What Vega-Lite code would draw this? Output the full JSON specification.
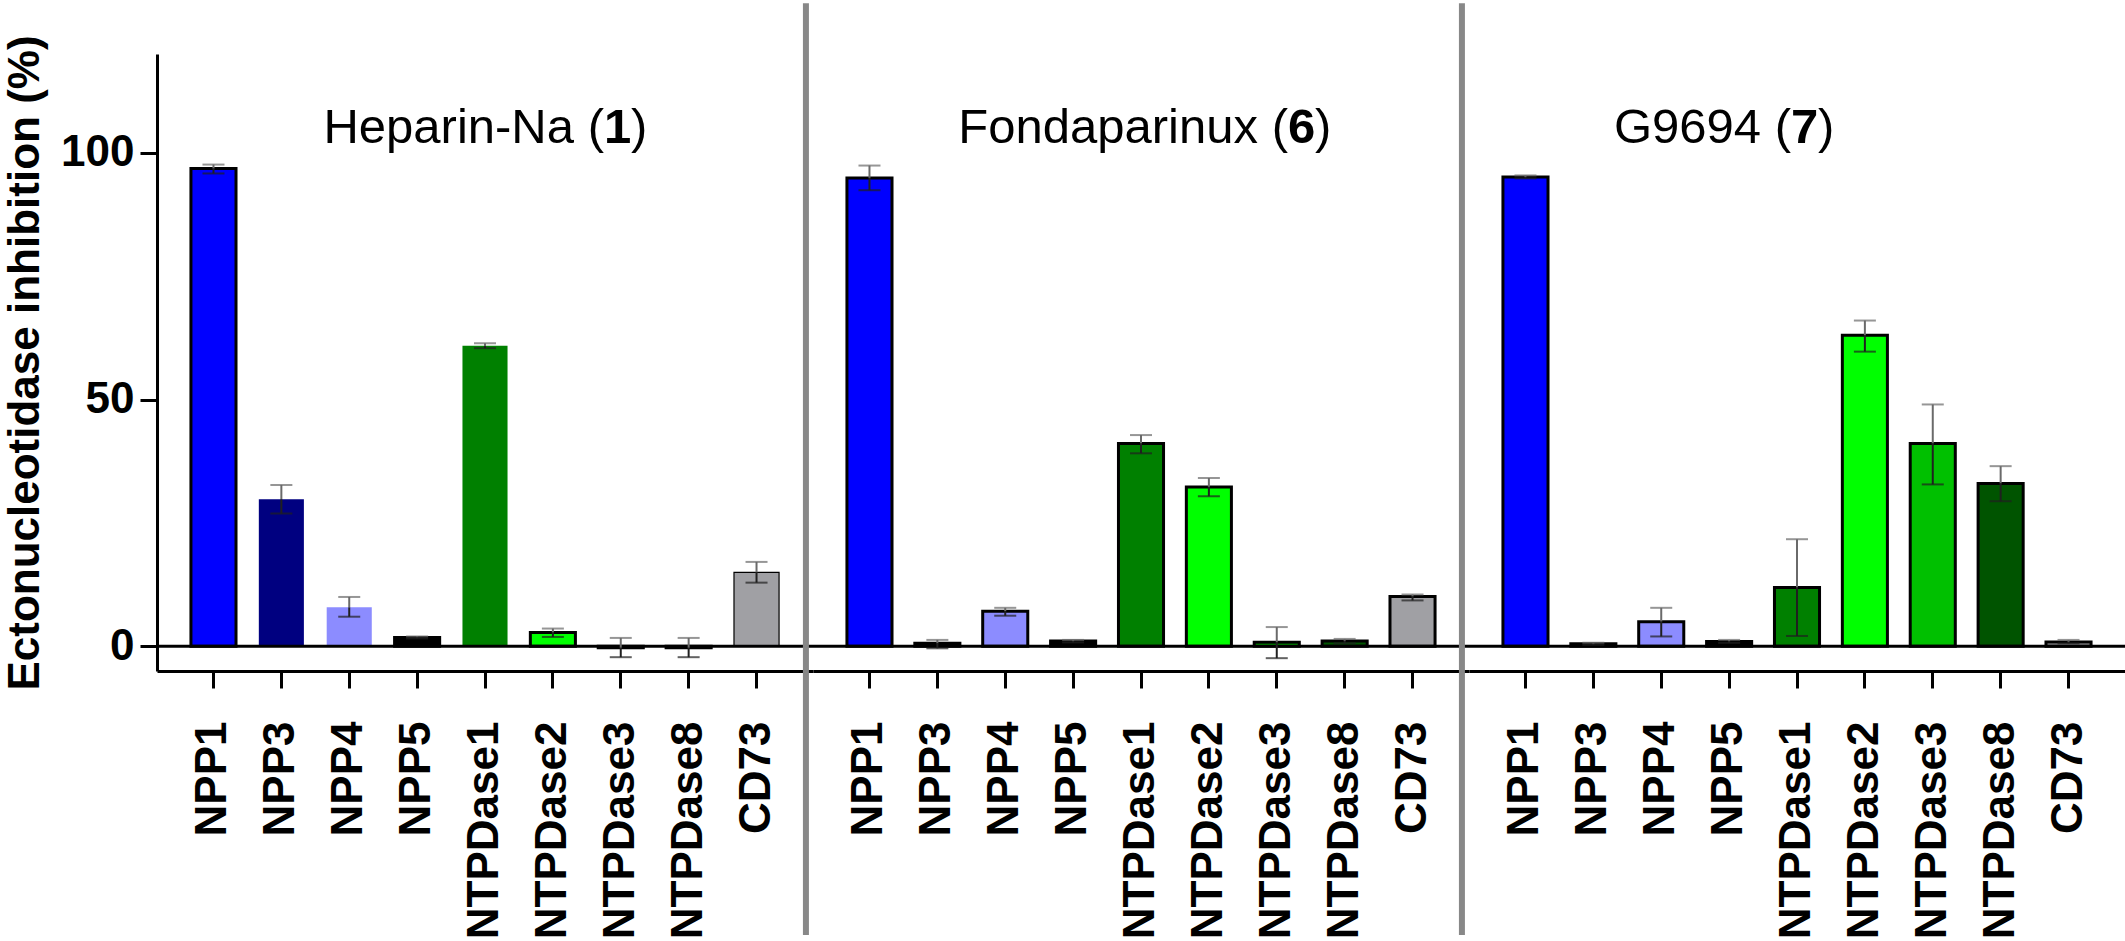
{
  "$schema": "https://vega.github.io/schema/vega-lite/v6.json",
  "padding": {"left": 3, "top": 0, "right": 0, "bottom": 0},
  "background": "white",
  "bounds": "flush",
  "config": {
    "view": {"stroke": null},
    "font": "Liberation Sans",
    "facet": {"spacing": 0}
  },
  "data": {
    "values": [
      {"drug": "Heparin-Na", "enzyme": "NPP1", "value": 96.8, "lo": 95.8, "hi": 97.6},
      {"drug": "Heparin-Na", "enzyme": "NPP3", "value": 29.8, "lo": 26.9, "hi": 32.7},
      {"drug": "Heparin-Na", "enzyme": "NPP4", "value": 7.9, "lo": 6.0, "hi": 10.0},
      {"drug": "Heparin-Na", "enzyme": "NPP5", "value": 1.8, "lo": 1.6, "hi": 2.0},
      {"drug": "Heparin-Na", "enzyme": "NTPDase1", "value": 60.9, "lo": 60.4, "hi": 61.4},
      {"drug": "Heparin-Na", "enzyme": "NTPDase2", "value": 2.8, "lo": 1.9, "hi": 3.6},
      {"drug": "Heparin-Na", "enzyme": "NTPDase3", "value": -0.3, "lo": -2.2, "hi": 1.7},
      {"drug": "Heparin-Na", "enzyme": "NTPDase8", "value": -0.3, "lo": -2.2, "hi": 1.7},
      {"drug": "Heparin-Na", "enzyme": "CD73", "value": 15.0, "lo": 12.9, "hi": 17.1},
      {"drug": "Fondaparinux", "enzyme": "NPP1", "value": 94.9, "lo": 92.4, "hi": 97.4},
      {"drug": "Fondaparinux", "enzyme": "NPP3", "value": 0.6, "lo": -0.4, "hi": 1.3},
      {"drug": "Fondaparinux", "enzyme": "NPP4", "value": 7.1, "lo": 6.2, "hi": 7.8},
      {"drug": "Fondaparinux", "enzyme": "NPP5", "value": 1.1, "lo": 0.8, "hi": 1.3},
      {"drug": "Fondaparinux", "enzyme": "NTPDase1", "value": 41.1, "lo": 39.1, "hi": 42.8},
      {"drug": "Fondaparinux", "enzyme": "NTPDase2", "value": 32.3, "lo": 30.4, "hi": 34.1},
      {"drug": "Fondaparinux", "enzyme": "NTPDase3", "value": 0.8, "lo": -2.4, "hi": 3.9},
      {"drug": "Fondaparinux", "enzyme": "NTPDase8", "value": 1.1, "lo": 0.6, "hi": 1.5},
      {"drug": "Fondaparinux", "enzyme": "CD73", "value": 10.1, "lo": 9.3, "hi": 10.5},
      {"drug": "G9694", "enzyme": "NPP1", "value": 95.1, "lo": 94.8, "hi": 95.4},
      {"drug": "G9694", "enzyme": "NPP3", "value": 0.5, "lo": 0.3, "hi": 0.7},
      {"drug": "G9694", "enzyme": "NPP4", "value": 5.0, "lo": 2.0, "hi": 7.8},
      {"drug": "G9694", "enzyme": "NPP5", "value": 1.0, "lo": 0.7, "hi": 1.3},
      {"drug": "G9694", "enzyme": "NTPDase1", "value": 11.9, "lo": 2.1, "hi": 21.7},
      {"drug": "G9694", "enzyme": "NTPDase2", "value": 63.0, "lo": 59.7, "hi": 66.0},
      {"drug": "G9694", "enzyme": "NTPDase3", "value": 41.1, "lo": 32.8, "hi": 49.0},
      {"drug": "G9694", "enzyme": "NTPDase8", "value": 33.0, "lo": 29.4, "hi": 36.5},
      {"drug": "G9694", "enzyme": "CD73", "value": 0.9, "lo": 0.6, "hi": 1.3},
      {"drug": "Heparin-Na", "name": "Heparin-Na", "num": "1"},
      {"drug": "Fondaparinux", "name": "Fondaparinux", "num": "6"},
      {"drug": "G9694", "name": "G9694", "num": "7"}
    ]
  },
  "facet": {
    "column": {
      "field": "drug",
      "type": "nominal",
      "sort": ["Heparin-Na", "Fondaparinux", "G9694"],
      "header": {"labels": false, "title": null}
    }
  },
  "spacing": 0,
  "spec": {
    "width": 656,
    "height": 617,
    "encoding": {
      "x": {
        "field": "enzyme",
        "type": "nominal",
        "scale": {
          "domain": ["NPP1", "NPP3", "NPP4", "NPP5", "NTPDase1", "NTPDase2", "NTPDase3", "NTPDase8", "CD73"],
          "paddingInner": 0.336,
          "paddingOuter": 0.5
        },
        "axis": {
          "title": null,
          "labelAngle": -90,
          "labelFont": "Liberation Sans",
          "labelFontSize": 44,
          "labelFontWeight": "bold",
          "labelColor": "black",
          "labelPadding": 33,
          "labelLimit": 500,
          "tickSize": 17,
          "tickWidth": 3,
          "tickColor": "black",
          "domainWidth": 3,
          "domainColor": "black",
          "grid": false
        }
      }
    },
    "layer": [
      {
        "transform": [{"filter": "isValid(datum.value)"}],
        "mark": {"type": "bar", "stroke": "black"},
        "encoding": {
          "y": {
            "field": "value",
            "type": "quantitative",
            "scale": {"domain": [-5, 120], "nice": false, "zero": false},
            "axis": {
              "values": [0, 50, 100],
              "title": "Ectonucleotidase inhibition (%)",
              "titleFont": "Liberation Sans",
              "titleFontSize": 44,
              "titleFontWeight": "bold",
              "titleColor": "black",
              "titlePadding": 13,
              "labelFont": "Liberation Sans",
              "labelFontSize": 44,
              "labelFontWeight": "bold",
              "labelColor": "black",
              "labelPadding": 6,
              "tickSize": 17,
              "tickWidth": 3,
              "tickColor": "black",
              "domainWidth": 3,
              "domainColor": "black",
              "grid": false
            }
          },
          "y2": {"datum": 0},
          "color": {
            "field": "enzyme",
            "type": "nominal",
            "scale": {
              "domain": ["NPP1", "NPP3", "NPP4", "NPP5", "NTPDase1", "NTPDase2", "NTPDase3", "NTPDase8", "CD73"],
              "range": ["#0000ff", "#000080", "#8c8cff", "#000000", "#008000", "#00ff00", "#00c000", "#005400", "#a0a0a4"]
            },
            "legend": null
          },
          "strokeWidth": {
            "condition": [
              {"test": "datum.drug === 'Heparin-Na' && (datum.enzyme === 'NPP3' || datum.enzyme === 'NPP4' || datum.enzyme === 'NTPDase1')", "value": 0},
              {"test": "datum.drug === 'Heparin-Na' && datum.enzyme === 'CD73'", "value": 1.2}
            ],
            "value": 3
          }
        }
      },
      {
        "transform": [{"filter": "isValid(datum.num)"}],
        "mark": {"type": "rule", "color": "black", "strokeWidth": 3},
        "encoding": {"x": null, "y": {"datum": 0}}
      },
      {
        "transform": [{"filter": "isValid(datum.value)"}],
        "mark": {"type": "rule", "color": "#6a6a6a", "strokeWidth": 2},
        "encoding": {
          "y": {"field": "value", "type": "quantitative"},
          "y2": {"field": "hi"}
        }
      },
      {
        "transform": [{"filter": "isValid(datum.value)"}],
        "mark": {"type": "tick", "color": "#6a6a6a", "size": 22, "thickness": 2},
        "encoding": {"y": {"field": "hi", "type": "quantitative"}}
      },
      {
        "transform": [{"filter": "isValid(datum.value)"}],
        "mark": {"type": "rule", "color": "#202020", "strokeWidth": 2},
        "encoding": {
          "y": {"field": "lo", "type": "quantitative"},
          "y2": {"field": "value"}
        }
      },
      {
        "transform": [{"filter": "isValid(datum.value)"}],
        "mark": {"type": "tick", "color": "#202020", "size": 22, "thickness": 2},
        "encoding": {"y": {"field": "lo", "type": "quantitative"}}
      },
      {
        "transform": [{"filter": "isValid(datum.num)"}],
        "mark": {
          "type": "text",
          "align": "right",
          "baseline": "alphabetic",
          "font": "Liberation Sans",
          "fontSize": 49,
          "color": "black",
          "dx": {"expr": "(datum.drug === 'Heparin-Na' ? 119 : datum.drug === 'Fondaparinux' ? 147 : -6) - 30"}
        },
        "encoding": {
          "x": {"datum": "NTPDase1"},
          "y": {"datum": 102},
          "text": {"field": "name"}
        }
      },
      {
        "transform": [{"filter": "isValid(datum.num)"}],
        "mark": {
          "type": "text",
          "align": "right",
          "baseline": "alphabetic",
          "font": "Liberation Sans",
          "fontSize": 49,
          "color": "black",
          "text": "(",
          "dx": {"expr": "datum.drug === 'Heparin-Na' ? 119 : datum.drug === 'Fondaparinux' ? 147 : -6"}
        },
        "encoding": {
          "x": {"datum": "NTPDase1"},
          "y": {"datum": 102}
        }
      },
      {
        "transform": [{"filter": "isValid(datum.num)"}],
        "mark": {
          "type": "text",
          "align": "left",
          "baseline": "alphabetic",
          "font": "Liberation Sans",
          "fontSize": 49,
          "fontWeight": "bold",
          "color": "black",
          "dx": {"expr": "datum.drug === 'Heparin-Na' ? 119 : datum.drug === 'Fondaparinux' ? 147 : -6"}
        },
        "encoding": {
          "x": {"datum": "NTPDase1"},
          "y": {"datum": 102},
          "text": {"field": "num"}
        }
      },
      {
        "transform": [{"filter": "isValid(datum.num)"}],
        "mark": {
          "type": "text",
          "align": "left",
          "baseline": "alphabetic",
          "font": "Liberation Sans",
          "fontSize": 49,
          "color": "black",
          "text": ")",
          "dx": {"expr": "(datum.drug === 'Heparin-Na' ? 119 : datum.drug === 'Fondaparinux' ? 147 : -6) + 27"}
        },
        "encoding": {
          "x": {"datum": "NTPDase1"},
          "y": {"datum": 102}
        }
      },
      {
        "transform": [{"filter": "isValid(datum.num) && datum.drug !== 'Heparin-Na'"}],
        "mark": {"type": "rule", "color": "#888888", "strokeWidth": 6},
        "encoding": {
          "x": {"datum": "NPP1", "bandPosition": -0.91},
          "y": {"datum": 130.3, "type": "quantitative"},
          "y2": {"datum": -58.5}
        }
      }
    ]
  }
}
